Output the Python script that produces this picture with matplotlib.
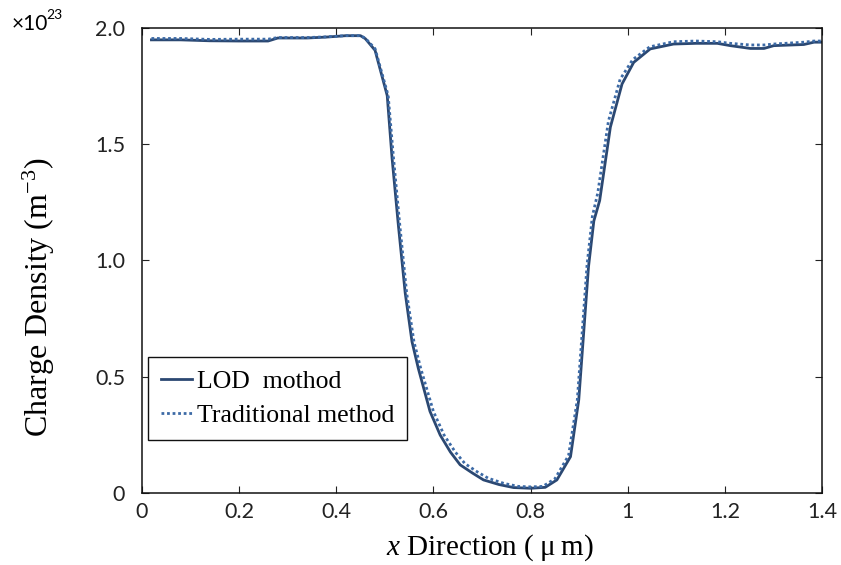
import matplotlib.pyplot as plt

plt.rcParams["mathtext.fontset"] = "custom"
plt.rcParams["mathtext.rm"] = "Liberation Serif"
plt.rcParams["mathtext.it"] = "Liberation Serif:italic"

# charge density along x, in units of 1e23 m^-3
x_lod = [0.02, 0.08, 0.14, 0.20, 0.26, 0.28, 0.34, 0.38, 0.42, 0.45, 0.46, 0.48,
         0.505, 0.515, 0.528, 0.542, 0.556, 0.569, 0.593, 0.614, 0.635, 0.655,
         0.68, 0.703, 0.735, 0.765, 0.80, 0.83, 0.854, 0.882, 0.899, 0.909,
         0.919, 0.930, 0.942, 0.964, 0.988, 1.012, 1.046, 1.094, 1.14, 1.184,
         1.211, 1.252, 1.28, 1.30, 1.362, 1.383, 1.40]
y_lod = [1.950, 1.950, 1.946, 1.945, 1.945, 1.958, 1.958, 1.962, 1.968, 1.968, 1.955, 1.905,
         1.710, 1.440, 1.150, 0.860, 0.650, 0.535, 0.350, 0.248, 0.175, 0.120,
         0.085, 0.055, 0.035, 0.022, 0.019, 0.023, 0.055, 0.155, 0.400, 0.686,
         0.972, 1.170, 1.258, 1.574, 1.760, 1.853, 1.911, 1.932, 1.935, 1.935,
         1.925, 1.913, 1.913, 1.925, 1.930, 1.940, 1.940]

x_trad = [0.02, 0.08, 0.14, 0.20, 0.26, 0.28, 0.34, 0.38, 0.42, 0.45, 0.46, 0.48,
          0.507, 0.518, 0.531, 0.545, 0.560, 0.574, 0.600, 0.622, 0.645, 0.665,
          0.69, 0.713, 0.745, 0.775, 0.80, 0.825, 0.85, 0.878, 0.896, 0.906,
          0.916, 0.927, 0.938, 0.960, 0.984, 1.010, 1.045, 1.094, 1.14, 1.184,
          1.211, 1.252, 1.28, 1.30, 1.362, 1.383, 1.40]
y_trad = [1.956, 1.956, 1.952, 1.953, 1.953, 1.960, 1.960, 1.963, 1.968, 1.968, 1.957, 1.912,
          1.710, 1.440, 1.150, 0.860, 0.650, 0.535, 0.350, 0.248, 0.175, 0.125,
          0.090, 0.062, 0.040, 0.027, 0.025, 0.027, 0.060, 0.160, 0.400, 0.690,
          0.980, 1.190, 1.290, 1.600, 1.780, 1.865, 1.920, 1.942, 1.945, 1.942,
          1.935, 1.928, 1.928, 1.932, 1.940, 1.945, 1.945]

x_ticks = [0, 0.2, 0.4, 0.6, 0.8, 1.0, 1.2, 1.4]
x_ticklabels = ["0", "0.2", "0.4", "0.6", "0.8", "1", "1.2", "1.4"]
y_ticks = [0, 0.5, 1.0, 1.5, 2.0]
y_ticklabels = ["0", "0.5", "1.0", "1.5", "2.0"]

fig = plt.figure(figsize=(8.41, 5.65), dpi=100)
ax = fig.add_axes([0.1685, 0.128, 0.8093, 0.822])

ax.plot(x_lod, y_lod, color="#2b4872", linewidth=2.0, label="LOD  mothod")
ax.plot(x_trad, y_trad, color="#3c6aa6", linewidth=2.0, linestyle=(0, (1, 1)),
        label="Traditional method")

ax.set_xlim(0, 1.4)
ax.set_ylim(0, 2.0)
ax.set_xticks(x_ticks)
ax.set_xticklabels(x_ticklabels)
ax.set_yticks(y_ticks)
ax.set_yticklabels(y_ticklabels)
ax.tick_params(direction="in", length=5, width=0.8, top=True, right=True,
               labelsize=15.5, labelfontfamily="Lato", colors="#222222")
ax.tick_params(axis="x", pad=7)
ax.tick_params(axis="y", pad=12)
for sp in ax.spines.values():
    sp.set_linewidth(1.1)
    sp.set_color("#111111")

ax.set_xlabel("$x$ Direction (\u2009\u03bc\u2009m)", fontsize=21, family="Liberation Serif")
ax.xaxis.set_label_coords(0.512, -0.085)
ax.set_ylabel("Charge Density (m$^{-3}$)", fontsize=23, family="Liberation Serif")
ax.yaxis.set_label_coords(-0.125, 0.42)

fig.text(0.014, 0.94, "\u00d710", fontsize=15, family="Lato", va="bottom")
fig.text(0.055, 0.962, "23", fontsize=10, family="Lato", va="bottom")

leg = ax.legend(loc="lower left", bbox_to_anchor=(0.009, 0.113), borderaxespad=0,
                prop={"family": "Liberation Serif", "size": 18.5},
                frameon=True, fancybox=False, edgecolor="#111111", framealpha=1,
                handlelength=1.2, handletextpad=0.2, borderpad=0.5, labelspacing=0.45)
leg.get_frame().set_linewidth(1.0)

fig.savefig("out.png", dpi=100)
